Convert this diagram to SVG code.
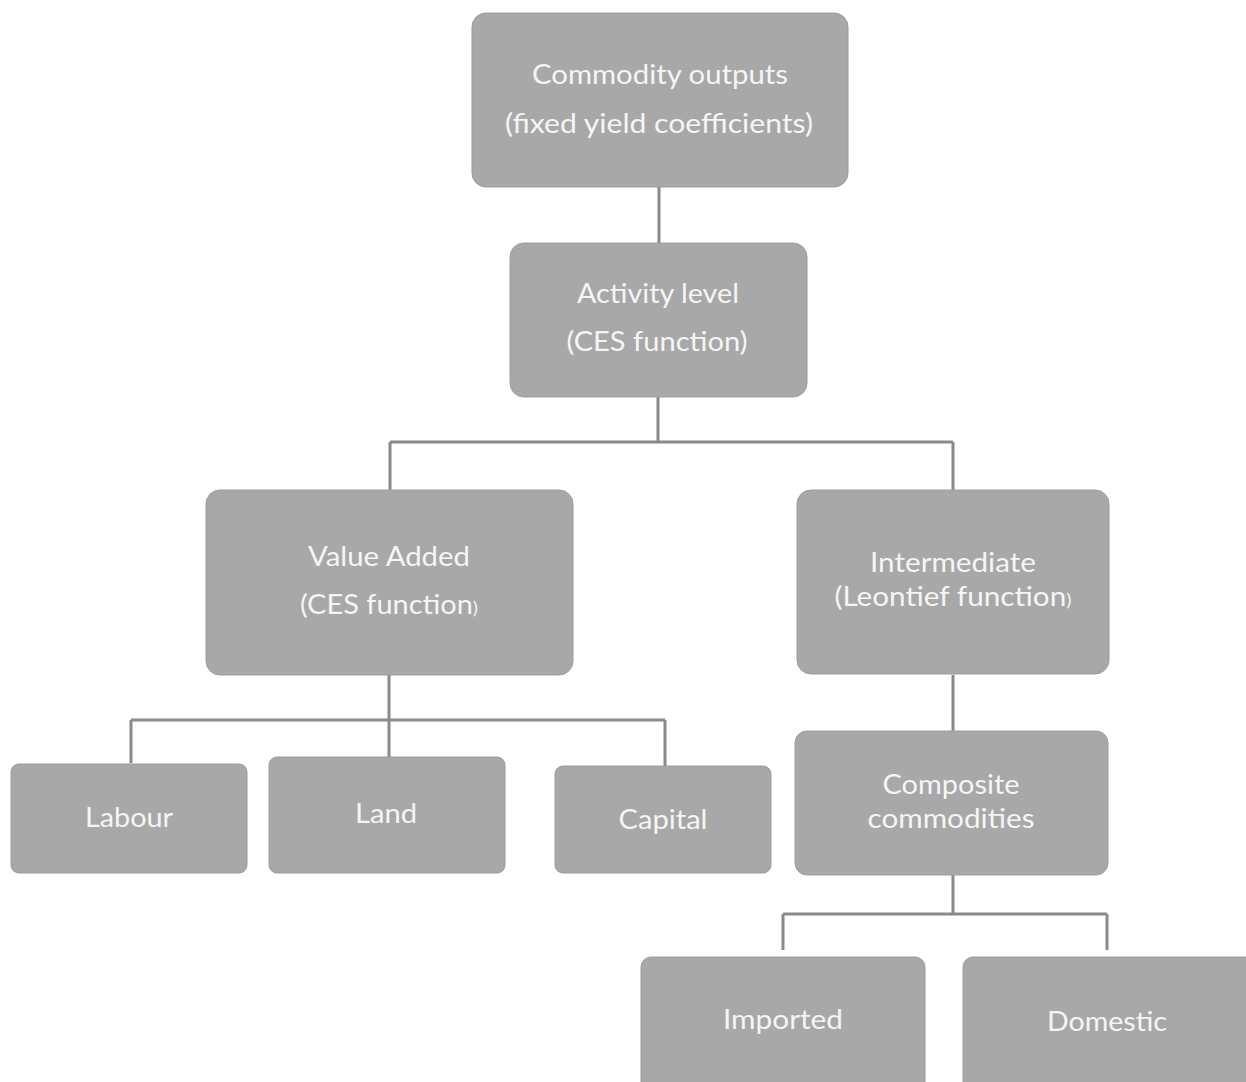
<svg xmlns="http://www.w3.org/2000/svg" width="1246" height="1082" viewBox="0 0 1246 1082">
<style>
.box{fill:#a8a8a8;stroke:#9c9c9c;stroke-width:1}
.t{font-family:Lato,"Open Sans","Liberation Sans",sans-serif;font-size:27px;fill:#f5f5f5;text-anchor:middle}
.c{fill:none;stroke:#8a8a8a;stroke-width:3}
.sm{font-size:18px}
</style>
<rect width="1246" height="1082" fill="#ffffff"/>
<g id="connectors">
<path class="c" d="M659 187 V243"/>
<path class="c" d="M658 397 V442 M390 442 H953 M390 442 V490 M953 442 V490"/>
<path class="c" d="M389 675 V720 M131 720 H665 M131 720 V763 M389 720 V757 M665 720 V766"/>
<path class="c" d="M953 675 V731"/>
<path class="c" d="M953 875 V914 M783 914 H1107 M783 914 V950 M1107 914 V950"/>
</g>
<g id="n-commodity"><rect class="box" x="472" y="13" width="376" height="174" rx="14"/>
<text class="t" x="660" y="84" textLength="256" lengthAdjust="spacingAndGlyphs">Commodity outputs</text>
<text class="t" x="659" y="133" textLength="308" lengthAdjust="spacingAndGlyphs">(fixed yield coefficients)</text></g>
<g id="n-activity"><rect class="box" x="510" y="243" width="297" height="154" rx="14"/>
<text class="t" x="658" y="303" textLength="162" lengthAdjust="spacingAndGlyphs">Activity level</text>
<text class="t" x="657" y="351" textLength="181" lengthAdjust="spacingAndGlyphs">(CES function)</text></g>
<g id="n-valueadded"><rect class="box" x="206" y="490" width="367" height="185" rx="14"/>
<text class="t" x="389" y="566" textLength="162" lengthAdjust="spacingAndGlyphs">Value Added</text>
<text class="t" x="389" y="614" textLength="178" lengthAdjust="spacingAndGlyphs">(CES function<tspan class="sm">)</tspan></text></g>
<g id="n-intermediate"><rect class="box" x="797" y="490" width="312" height="184" rx="14"/>
<text class="t" x="953" y="572" textLength="166" lengthAdjust="spacingAndGlyphs">Intermediate</text>
<text class="t" x="953" y="606" textLength="237" lengthAdjust="spacingAndGlyphs">(Leontief function<tspan class="sm">)</tspan></text></g>
<g id="n-labour"><rect class="box" x="11" y="764" width="236" height="109" rx="8"/>
<text class="t" x="129" y="827" textLength="88" lengthAdjust="spacingAndGlyphs">Labour</text></g>
<g id="n-land"><rect class="box" x="269" y="757" width="236" height="116" rx="8"/>
<text class="t" x="386" y="823" textLength="62" lengthAdjust="spacingAndGlyphs">Land</text></g>
<g id="n-capital"><rect class="box" x="555" y="766" width="216" height="107" rx="8"/>
<text class="t" x="663" y="829" textLength="89" lengthAdjust="spacingAndGlyphs">Capital</text></g>
<g id="n-composite"><rect class="box" x="795" y="731" width="313" height="144" rx="12"/>
<text class="t" x="951" y="794" textLength="137" lengthAdjust="spacingAndGlyphs">Composite</text>
<text class="t" x="951" y="828" textLength="167" lengthAdjust="spacingAndGlyphs">commodities</text></g>
<g id="n-imported"><rect class="box" x="641" y="957" width="284" height="140" rx="10"/>
<text class="t" x="783" y="1029" textLength="120" lengthAdjust="spacingAndGlyphs">Imported</text></g>
<g id="n-domestic"><rect class="box" x="963" y="957" width="300" height="140" rx="10"/>
<text class="t" x="1107" y="1031" textLength="120" lengthAdjust="spacingAndGlyphs">Domestic</text></g>
</svg>
